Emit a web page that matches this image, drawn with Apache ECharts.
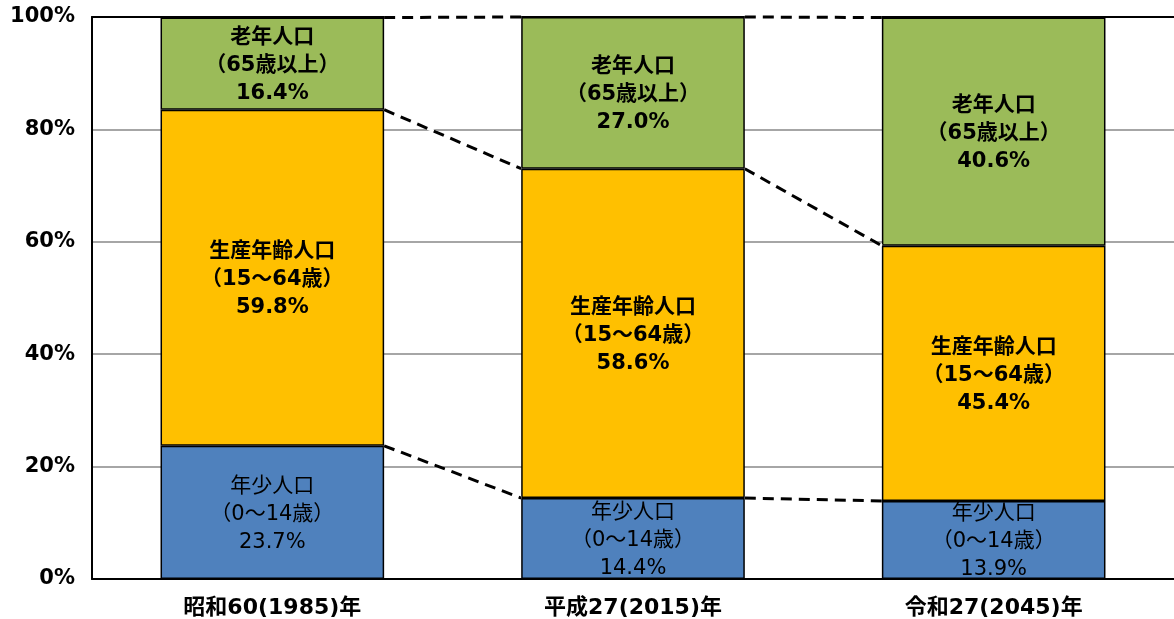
<!DOCTYPE html>
<html>
<head>
<meta charset="utf-8">
<script src="https://cdn.jsdelivr.net/npm/echarts@6/dist/echarts.min.js"></script>
<style>
  html, body { margin: 0; padding: 0; background: #fff; }
  #chart { width: 1174px; height: 619px; }
</style>
</head>
<body>
<div id="chart"></div>
<script>
const categories = ["昭和60(1985)年", "平成27(2015)年", "令和27(2045)年"];
const youngValues = [23.7, 14.4, 13.9];
const workingValues = [59.8, 58.6, 45.4];
const elderlyValues = [16.4, 27.0, 40.6];
const youngName = "年少人口\n（0～14歳）";
const workingName = "生産年齢人口\n（15～64歳）";
const elderlyName = "老年人口\n（65歳以上）";

const font = "'DejaVu Sans', 'Noto Sans CJK JP', sans-serif";
const barRatio = 0.62;

// boundaries between the stacked parts, joined by dashed lines
let levels = categories.map((c, i) => [
  youngValues[i],
  youngValues[i] + workingValues[i],
  youngValues[i] + workingValues[i] + elderlyValues[i]
]);
let links = [];
for (let i = 0; i < categories.length - 1; i++) {
  for (let k = 0; k < 3; k++) {
    links.push([i, levels[i][k], levels[i + 1][k]]);
  }
}

function barLabel(name, bold) {
  return {
    show: true,
    position: "inside",
    offset: [0, 2],
    color: "#000",
    fontFamily: font,
    fontSize: 21,
    fontWeight: bold ? "bold" : "normal",
    lineHeight: 28,
    formatter: p => name + "\n" + p.value.toFixed(1) + "%"
  };
}

let chart = echarts.init(document.getElementById("chart"));
chart.setOption({
  animation: false,
  grid: { left: 92, right: 0, top: 17, bottom: 40 },
  xAxis: [
    {
      type: "category",
      data: categories,
      axisLine: { lineStyle: { color: "#000", width: 2 } },
      axisTick: { show: false },
      axisLabel: {
        color: "#000",
        fontFamily: font,
        fontSize: 22,
        fontWeight: "bold",
        margin: 18
      }
    },
    {
      type: "category",
      position: "top",
      data: categories,
      axisLine: { show: true, lineStyle: { color: "#000", width: 2 } },
      axisTick: { show: false },
      axisLabel: { show: false }
    }
  ],
  yAxis: {
    type: "value",
    min: 0,
    max: 100,
    interval: 20,
    axisLine: { show: true, lineStyle: { color: "#000", width: 2 } },
    axisTick: { show: false },
    axisLabel: {
      formatter: "{value}%",
      color: "#000",
      fontFamily: font,
      fontSize: 21,
      fontWeight: "bold",
      margin: 17
    },
    splitLine: { lineStyle: { color: "#a6a6a6", width: 2 } }
  },
  series: [
    {
      name: "年少人口",
      type: "bar",
      stack: "total",
      barWidth: barRatio * 100 + "%",
      data: youngValues,
      itemStyle: { color: "#4f81bd", borderColor: "#000", borderWidth: 1.5 },
      label: barLabel(youngName, false)
    },
    {
      name: "生産年齢人口",
      type: "bar",
      stack: "total",
      data: workingValues,
      itemStyle: { color: "#ffc000", borderColor: "#000", borderWidth: 1.5 },
      label: barLabel(workingName, true)
    },
    {
      name: "老年人口",
      type: "bar",
      stack: "total",
      data: elderlyValues,
      itemStyle: { color: "#9bbb59", borderColor: "#000", borderWidth: 1.5 },
      label: barLabel(elderlyName, true)
    },
    {
      type: "custom",
      data: links,
      z: 5,
      renderItem: (params, api) => {
        let i = api.value(0);
        let p1 = api.coord([i, api.value(1)]);
        let p2 = api.coord([i + 1, api.value(2)]);
        let half = api.size([1, 0])[0] * barRatio / 2;
        let shape = { x1: p1[0] + half, y1: p1[1], x2: p2[0] - half, y2: p2[1] };
        return {
          type: "group",
          children: [
            { type: "line", shape: shape, style: { stroke: "#fff", lineWidth: 3 } },
            { type: "line", shape: shape, style: { stroke: "#000", lineWidth: 3, lineDash: [11, 7] } }
          ]
        };
      }
    }
  ]
});
</script>
</body>
</html>
